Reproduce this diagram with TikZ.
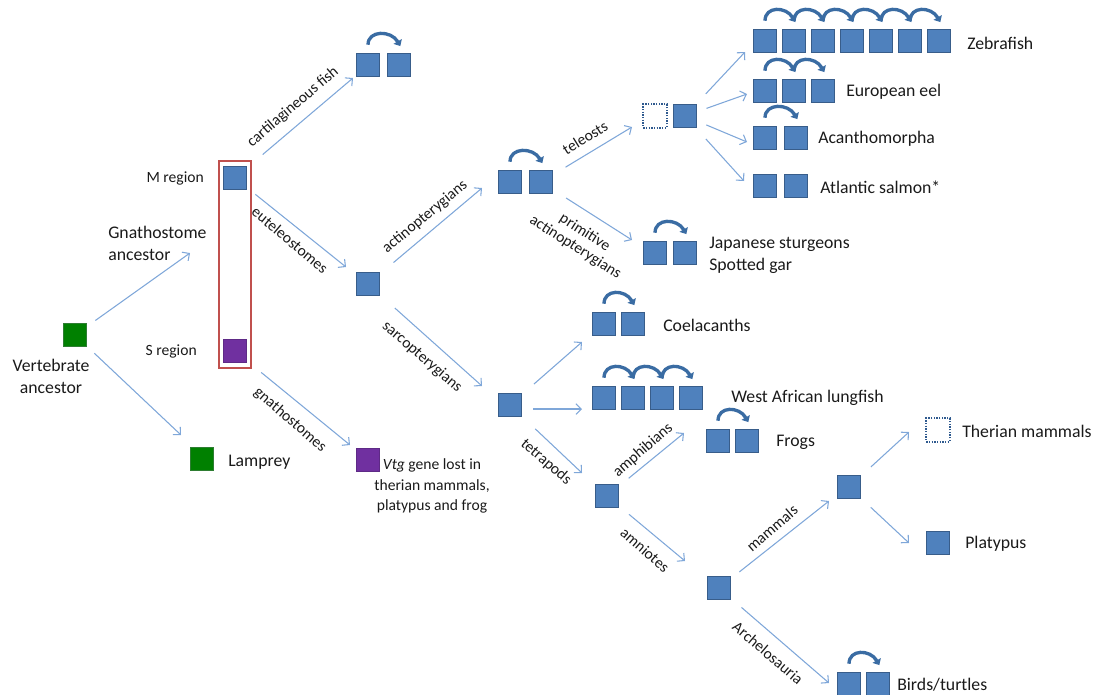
\documentclass[tikz,border=0pt]{standalone}
\usepackage{fontspec}
\setmainfont{Carlito}
\usetikzlibrary{arrows.meta,fit,calc}
\definecolor{sqfill}{HTML}{4F81BD}
\definecolor{sqedge}{HTML}{385D8A}
\definecolor{ghostedge}{HTML}{2F5A8F}
\definecolor{greenfill}{HTML}{008000}
\definecolor{greenedge}{HTML}{2E7D32}
\definecolor{purpfill}{HTML}{7030A0}
\definecolor{purpedge}{HTML}{5E2A86}
\definecolor{arrcol}{HTML}{7FA7D9}
\definecolor{dupcol}{HTML}{3A6CA3}
\definecolor{redcol}{HTML}{C0504D}
\definecolor{txt}{HTML}{1A1A1A}
\tikzset{
 gene/.style={draw=sqedge, fill=sqfill, line width=0.9pt, minimum size=17.5pt, inner sep=0pt},
 ggreen/.style={gene, draw=greenedge, fill=greenfill},
 gpurple/.style={gene, draw=purpedge, fill=purpfill},
 ghost/.style={gene, fill=white, draw=ghostedge, dash pattern=on 1pt off 1pt, line width=1.4pt},
 arr/.style={draw=arrcol, line width=0.8pt, -{Straight Barb[length=4pt,width=8pt]}},
 dup/.style={draw=dupcol, line width=2.5pt, -{Triangle[length=4pt,width=7pt]}},
 lbl/.style={font=\fontsize{11.7}{14}\selectfont, inner sep=0pt, text=txt},
 sp/.style={font=\fontsize{13.3}{16.5}\selectfont, inner sep=0pt, text=txt},
 redbox/.style={draw=redcol, line width=1.5pt},
}
\newcommand\duparc[2]{\draw[dup] ([yshift=6pt]#1.north) .. controls ([xshift=0pt,yshift=17pt]#1.north) and ([xshift=-6pt,yshift=17pt]#2.north) .. ([xshift=1pt,yshift=5pt]#2.north);}
\begin{document}
\begin{tikzpicture}[x=0.75pt,y=-0.75pt]
\useasboundingbox (0,0) rectangle (1099,694);
% ---- gene squares ----
\node[ggreen] (vert) at (75,335) {};
\node[ggreen] (lam) at (202,459) {};
\node[gene] (m) at (235,178) {};
\node[gpurple] (s) at (235,351) {};
\node[redbox, fit=(m)(s), inner xsep=2.5pt, inner ysep=3.5pt] (box) {};
\node[gpurple] (vtg) at (368,460) {};
\node[gene] (cf1) at (368,65) {};
\node[gene] (cf2) at (399,65) {};
\node[gene] (eut) at (368,284) {};
\node[gene] (act1) at (510,182) {};
\node[gene] (act2) at (541,182) {};
\node[ghost] (telg) at (655,116) {};
\node[gene] (tel) at (685,116) {};
\foreach \k in {1,...,7} {\node[gene] (zf\k) at ({765+29*(\k-1)},41) {};}
\foreach \k in {1,2,3} {\node[gene] (eel\k) at ({765+29*(\k-1)},91) {};}
\node[gene] (ac1) at (765,138) {};
\node[gene] (ac2) at (796,138) {};
\node[gene] (sal1) at (765,186) {};
\node[gene] (sal2) at (796,186) {};
\node[gene] (st1) at (655,253) {};
\node[gene] (st2) at (685,253) {};
\node[gene] (sarc) at (510,405) {};
\node[gene] (co1) at (604,324) {};
\node[gene] (co2) at (633,324) {};
\foreach \k in {1,...,4} {\node[gene] (lf\k) at ({604+29*(\k-1)},398) {};}
\node[gene] (tet) at (607,496) {};
\node[gene] (fr1) at (718,441) {};
\node[gene] (fr2) at (747,441) {};
\node[gene] (amn) at (719,588) {};
\node[gene] (mam) at (849,487) {};
\node[ghost] (ther) at (938,430) {};
\node[gene] (plat) at (938,543) {};
\node[gene] (bt1) at (849,684) {};
\node[gene] (bt2) at (878,684) {};
% ---- duplication arcs ----
\duparc{cf1}{cf2}
\duparc{act1}{act2}
\foreach \a/\b in {1/2,2/3,3/4,4/5,5/6,6/7} {\duparc{zf\a}{zf\b}}
\duparc{eel1}{eel2}
\duparc{eel2}{eel3}
\duparc{ac1}{ac2}
\duparc{st1}{st2}
\duparc{co1}{co2}
\duparc{lf1}{lf2}
\duparc{lf2}{lf3}
\duparc{lf3}{lf4}
\duparc{fr1}{fr2}
\duparc{bt1}{bt2}
% ---- arrow tips ----
\coordinate (t1) at (190,253);
\coordinate (t2) at (181,435);
\coordinate (t3) at (353,78);
\coordinate (t4) at (346,267);
\coordinate (t5) at (350,445);
\coordinate (t6) at (482,188);
\coordinate (t7) at (482,386);
\coordinate (t8) at (632,127);
\coordinate (t9) at (632,240);
\coordinate (t10) at (745,52);
\coordinate (t11) at (747,94);
\coordinate (t12) at (747,142);
\coordinate (t13) at (744,181);
\coordinate (t14) at (582,342);
\coordinate (t15) at (582,409);
\coordinate (t16) at (582,473);
\coordinate (t17) at (684,433);
\coordinate (t18) at (685,561);
\coordinate (t19) at (829,501);
\coordinate (t20) at (909,432);
\coordinate (t21) at (909,543);
\coordinate (t22) at (829,683);
% ---- arrows ----
\draw[arr, shorten <=18.75pt] (vert.center) -- (t1);
\draw[arr, shorten <=20pt] (vert.center) -- (t2);
\draw[arr, shorten <=27.2pt] (m.center) -- (t3);
\draw[arr, shorten <=19.6pt] (m.center) -- (t4);
\draw[arr, shorten <=25.4pt] (s.center) -- (t5);
\draw[arr, shorten <=25pt] (eut.center) -- (t6);
\draw[arr, shorten <=27pt] (eut.center) -- (t7);
\draw[arr, shorten <=21.5pt] (act2.center) -- (t8);
\draw[arr, shorten <=22.3pt] (act2.center) -- (t9);
\draw[arr, shorten <=22.8pt] (tel.center) -- (t10);
\draw[arr, shorten <=17.1pt] (tel.center) -- (t11);
\draw[arr, shorten <=17.3pt] (tel.center) -- (t12);
\draw[arr, shorten <=23.3pt] (tel.center) -- (t13);
\draw[arr, shorten <=23.9pt] (sarc.center) -- (t14);
\draw[arr, shorten <=8.25pt] ([yshift=-3pt]sarc.east) -- (t15);
\draw[arr, shorten <=26pt] (sarc.center) -- (t16);
\draw[arr, shorten <=21pt] (tet.center) -- (t17);
\draw[arr, shorten <=21.5pt] (tet.center) -- (t18);
\draw[arr, shorten <=19.5pt] (amn.center) -- (t19);
\draw[arr, shorten <=22.3pt] (mam.center) -- (t20);
\draw[arr, shorten <=22.3pt] (mam.center) -- (t21);
\draw[arr, shorten <=22.3pt] (amn.center) -- (t22);
% ---- branch labels ----
\node[lbl, rotate=40.5] (lcart) at (293,107) {cartilagineous fish};
\node[lbl, rotate=-40] (leut) at (290,240) {euteleostomes};
\node[lbl, rotate=-40.8] (lgna) at (290,420) {gnathostomes};
\node[lbl, rotate=39.7] (lact) at (425,217) {actinopterygians};
\node[lbl, rotate=-40.5] (lsarc) at (422,357) {sarcopterygians};
\node[lbl, rotate=31.8] (ltel) at (585,138) {teleosts};
\node[lbl, rotate=-32.5, align=center, font=\fontsize{11.7}{13.1}\selectfont] (lprim) at (580,240) {primitive\\actinopterygians};
\node[lbl, rotate=-40.6] (ltet) at (546,462) {tetrapods};
\node[lbl, rotate=41] (lamph) at (643,450) {amphibians};
\node[lbl, rotate=-41] (lamn) at (645,550) {amniotes};
\node[lbl, rotate=40.8] (lmam) at (772,528) {mammals};
\node[lbl, rotate=-40.4] (larch) at (768,653) {Archelosauria};
% ---- texts ----
\node[sp, align=center] (tvert) at (51,376) {Vertebrate\\ancestor};
\node[sp, align=left, anchor=west] (tgna) at (108,243) {Gnathostome\\ancestor};
\node[lbl, anchor=east] (tm) at (204,178) {M region};
\node[lbl, anchor=east] (ts) at (197,351) {S region};
\node[sp, anchor=west] (tlam) at (228,462) {Lamprey};
\node[lbl, align=center, font=\fontsize{11.7}{15.5}\selectfont] (tvtg) at (432,486) {\textit{Vtg} gene lost in\\therian mammals,\\platypus and frog};
\node[sp, anchor=west] (tzf) at (967,43) {Zebrafish};
\node[sp, anchor=west] (teel) at (846,92) {European eel};
\node[sp, anchor=west] (tac) at (818,139) {Acanthomorpha};
\node[sp, anchor=west] (tsal) at (820,187) {Atlantic salmon*};
\node[sp, anchor=west, align=left] (tst) at (709,255) {Japanese sturgeons\\Spotted gar};
\node[sp, anchor=west] (tco) at (663,325) {Coelacanths};
\node[sp, anchor=west] (tlf) at (731,398) {West African lungfish};
\node[sp, anchor=west] (tfr) at (776,442) {Frogs};
\node[sp, anchor=west] (tther) at (962,431) {Therian mammals};
\node[sp, anchor=west] (tplat) at (965,544) {Platypus};
\node[sp, anchor=west] (tbt) at (897,685) {Birds/turtles};
\end{tikzpicture}
\end{document}
